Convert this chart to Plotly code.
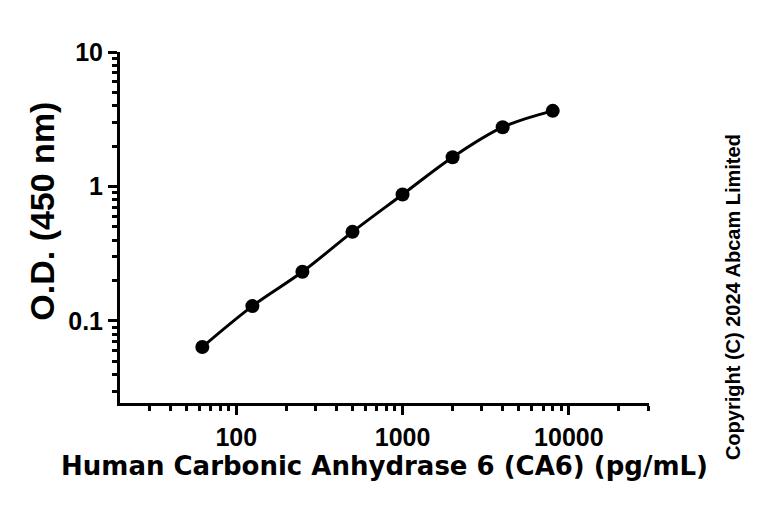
import plotly.graph_objects as go

concentration = [62.5, 125, 250, 500, 1000, 2000, 4000, 8000]
od_450 = [0.064, 0.129, 0.232, 0.46, 0.872, 1.65, 2.76, 3.65]

x_major = [100, 1000, 10000]
x_major_text = ["100", "1000", "10000"]
y_major = [0.1, 1, 10]
y_major_text = ["0.1", "1", "10"]
x_minor = [30, 40, 50, 60, 70, 80, 90, 200, 300, 400, 500, 600, 700, 800, 900,
           2000, 3000, 4000, 5000, 6000, 7000, 8000, 9000, 20000, 30000]
y_minor = [0.03, 0.04, 0.05, 0.06, 0.07, 0.08, 0.09, 0.2, 0.3, 0.4, 0.5, 0.6, 0.7, 0.8, 0.9,
           2, 3, 4, 5, 6, 7, 8, 9]

x_title = "Human Carbonic Anhydrase 6 (CA6) (pg/mL)"
y_title = "O.D. (450 nm)"
copyright_text = "Copyright (C) 2024 Abcam Limited"

tick_font = dict(family="Liberation Sans Narrow, Arial Narrow, Liberation Sans, sans-serif",
                 size=25, color="black", weight="bold")

fig = go.Figure()
fig.add_trace(go.Scatter(
    x=concentration, y=od_450, mode="lines+markers",
    line=dict(color="black", width=3, shape="spline", smoothing=1),
    marker=dict(color="black", size=14),
    showlegend=False, cliponaxis=False,
))

fig.update_xaxes(
    type="log", range=[1.301, 4.482], automargin=False,
    showline=True, linecolor="black", linewidth=3,
    ticks="outside", ticklen=9, tickwidth=3, tickcolor="black",
    tickvals=x_major, ticktext=x_major_text, tickfont=tick_font, ticklabelstandoff=1,
    minor=dict(tickvals=x_minor, ticks="outside", ticklen=5, tickwidth=2.5, tickcolor="black", showgrid=False),
    showgrid=False, zeroline=False, mirror=False,
    title=dict(text=x_title, font=dict(family="DejaVu Sans, sans-serif", size=26, color="black", weight="bold"), standoff=6),
)
fig.update_yaxes(
    type="log", range=[-1.61, 1.0], automargin=False,
    showline=True, linecolor="black", linewidth=3,
    ticks="outside", ticklen=9, tickwidth=3, tickcolor="black",
    tickvals=y_major, ticktext=y_major_text, tickfont=tick_font,
    minor=dict(tickvals=y_minor, ticks="outside", ticklen=5, tickwidth=2.5, tickcolor="black", showgrid=False),
    showgrid=False, zeroline=False, mirror=False,
)

fig.add_annotation(
    text=y_title, xref="paper", yref="paper", x=-0.148, y=0.547,
    xanchor="center", yanchor="middle", textangle=-90, showarrow=False,
    font=dict(family="Liberation Sans, Arial, sans-serif", size=34, color="black", weight="bold"),
)
fig.add_annotation(
    text=copyright_text, xref="paper", yref="paper", x=1.159, y=0.302,
    xanchor="center", yanchor="middle", textangle=-90, showarrow=False,
    font=dict(family="Liberation Sans, Arial, sans-serif", size=20, color="black", weight="bold"),
)

fig.update_layout(
    width=768, height=508,
    margin=dict(l=120, r=119, t=52, b=105),
    plot_bgcolor="white", paper_bgcolor="white",
)

fig.write_html("out.html", config={"displayModeBar": False},
               post_script="document.body.style.margin='0';")
